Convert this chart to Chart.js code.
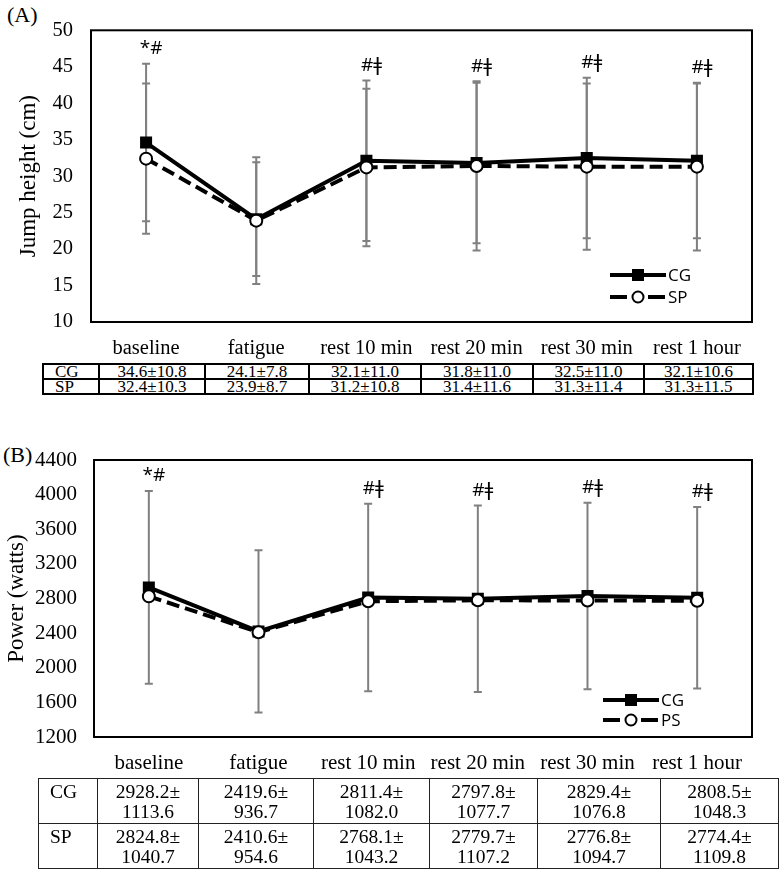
<!DOCTYPE html>
<html>
<head>
<meta charset="utf-8">
<script src="https://cdn.jsdelivr.net/npm/chart.js@4.4.1/dist/chart.umd.min.js"></script>
<style>
    body { margin: 0; background: #fff; width: 779px; height: 871px; position: relative; overflow: hidden;
           font-family: "Liberation Serif", "Times New Roman", serif; color: #000; }
    canvas { position: absolute; left: 0; }
    .tag { position: absolute; font-size: 22px; line-height: 22px; }
    table { position: absolute; border-collapse: collapse; table-layout: fixed; }
    #tableA td { border: 2px solid #000; text-align: center; padding: 0; font-size: 17px; line-height: 13px; height: 13px; }
    #tableB td { border: 1.5px solid #222; text-align: center; padding: 3px 0 0 0; font-size: 19.5px; line-height: 20px;
                 height: 41px; vertical-align: top; }
    td.grp { text-align: left !important; padding-left: 11px !important; }
</style>
</head>
<body>

<div class="tag" style="left:7px; top:4px;">(A)</div>
<div class="tag" style="left:3px; top:444px;">(B)</div>

<canvas id="jumpChart" width="779" height="362" style="top:0px;"></canvas>
<table id="tableA" style="left:42px; top:363px; width:710px;"></table>

<canvas id="powerChart" width="779" height="360" style="top:420px;"></canvas>
<table id="tableB" style="left:38px; top:778px; width:740px;"></table>

<script>
const categories = ['baseline', 'fatigue', 'rest 10 min', 'rest 20 min', 'rest 30 min', 'rest 1 hour'];
const sigMarks = ['*#', '', '#ǂ', '#ǂ', '#ǂ', '#ǂ'];

const jumpCG = [34.6, 24.1, 32.1, 31.8, 32.5, 32.1];
const jumpCGsd = [10.8, 7.8, 11.0, 11.0, 11.0, 10.6];
const jumpSP = [32.4, 23.9, 31.2, 31.4, 31.3, 31.3];
const jumpSPsd = [10.3, 8.7, 10.8, 11.6, 11.4, 11.5];
const jumpTicks = [10, 15, 20, 25, 30, 35, 40, 45, 50];

const powerCG = [2928.2, 2419.6, 2811.4, 2797.8, 2829.4, 2808.5];
const powerCGsd = [1113.6, 936.7, 1082.0, 1077.7, 1076.8, 1048.3];
const powerSP = [2824.8, 2410.6, 2768.1, 2779.7, 2776.8, 2774.4];
const powerSPsd = [1040.7, 954.6, 1043.2, 1107.2, 1094.7, 1109.8];
const powerTicks = [1200, 1600, 2000, 2400, 2800, 3200, 3600, 4000, 4400];

// box, error bars, significance marks and the in-plot legend
const panelExtras = {
    id: 'panelExtras',
    beforeDatasetsDraw(chart) {
        const ctx = chart.ctx, y = chart.scales.y;
        ctx.save();
        ctx.strokeStyle = '#808080';
        ctx.lineWidth = 2;
        chart.data.datasets.forEach((ds, i) => {
            if (!ds.sd) return;
            chart.getDatasetMeta(i).data.forEach((pt, j) => {
                const top = y.getPixelForValue(ds.data[j] + ds.sd[j]);
                const bot = y.getPixelForValue(ds.data[j] - ds.sd[j]);
                ctx.beginPath();
                ctx.moveTo(pt.x, top); ctx.lineTo(pt.x, bot);
                ctx.moveTo(pt.x - 4, top); ctx.lineTo(pt.x + 4, top);
                ctx.moveTo(pt.x - 4, bot); ctx.lineTo(pt.x + 4, bot);
                ctx.stroke();
            });
        });
        ctx.restore();
    },
    afterDraw(chart, args, opts) {
        const ctx = chart.ctx, a = chart.chartArea, y = chart.scales.y;
        ctx.save();
        ctx.strokeStyle = '#000';
        ctx.lineWidth = 2;
        ctx.strokeRect(a.left, a.top, a.right - a.left, a.bottom - a.top);

        // marks above the highest bar
        ctx.fillStyle = '#000';
        ctx.font = '19px "Open Sans", "DejaVu Sans", sans-serif';
        ctx.textAlign = 'center';
        ctx.textBaseline = 'middle';
        const pts = chart.getDatasetMeta(0).data;
        sigMarks.forEach((m, j) => {
            if (!m) return;
            let top = Infinity;
            chart.data.datasets.forEach(ds => {
                if (ds.sd) top = Math.min(top, y.getPixelForValue(ds.data[j] + ds.sd[j]));
            });
            ctx.fillText(m, pts[j].x + 5, top - 15);
        });

        // legend
        const lg = opts.legend;
        chart.data.datasets.forEach((ds, k) => {
            const ly = lg.y + k * lg.gap;
            const cx = lg.x + 28;
            ctx.beginPath();
            ctx.lineWidth = 4;
            ctx.strokeStyle = '#000';
            ctx.setLineDash(ds.borderDash && ds.borderDash.length ? [17, 21] : []);
            ctx.moveTo(lg.x, ly); ctx.lineTo(lg.x + 56, ly);
            ctx.stroke();
            ctx.setLineDash([]);
            if (ds.pointStyle === 'rect') {
                ctx.fillStyle = '#000';
                ctx.fillRect(cx - 6, ly - 6, 12, 12);
            } else {
                ctx.beginPath();
                ctx.arc(cx, ly, 5.5, 0, Math.PI * 2);
                ctx.fillStyle = '#fff';
                ctx.fill();
                ctx.lineWidth = 2;
                ctx.stroke();
            }
            ctx.fillStyle = '#000';
            ctx.font = '17px "Open Sans", sans-serif';
            ctx.textAlign = 'left';
            ctx.fillText(ds.label, lg.x + 58, ly + 1);
        });
        ctx.restore();
    }
};

function makePanel(canvasId, cg, cgSd, sp, spSd, spLabel, ticks, title, o) {
    return new Chart(document.getElementById(canvasId), {
        type: 'line',
        data: {
            labels: categories,
            datasets: [{
                label: 'CG',
                data: cg,
                sd: cgSd,
                order: 1,
                borderColor: '#000',
                borderWidth: 4,
                pointStyle: 'rect',
                pointRadius: 8.5,
                pointBackgroundColor: '#000',
                pointBorderWidth: 0,
                tension: 0
            }, {
                label: spLabel,
                data: sp,
                sd: spSd,
                order: 0,
                borderColor: '#000',
                borderWidth: 4,
                borderDash: [13, 6],
                pointStyle: 'circle',
                pointRadius: 6,
                pointBackgroundColor: '#fff',
                pointBorderColor: '#000',
                pointBorderWidth: 2,
                tension: 0
            }]
        },
        options: {
            responsive: false,
            animation: false,
            devicePixelRatio: 1,
            layout: { padding: { top: o.top, right: 27, left: 0, bottom: 0 } },
            scales: {
                x: {
                    offset: true,
                    grid: { display: false, drawTicks: false },
                    border: { display: false },
                    ticks: { color: '#000', padding: o.xPad, maxRotation: 0,
                             font: { family: 'Liberation Serif', size: o.font } },
                    afterFit: s => { s.height = o.xHeight; }
                },
                y: {
                    min: ticks[0],
                    max: ticks[ticks.length - 1],
                    afterBuildTicks: s => { s.ticks = ticks.map(v => ({ value: v })); },
                    grid: { display: false, drawTicks: false },
                    border: { display: false },
                    ticks: { color: '#000', padding: o.yPad, callback: v => String(v),
                             font: { family: 'Liberation Serif', size: o.font } },
                    title: { display: true, text: title, color: '#000', padding: { top: o.titlePad },
                             font: { family: 'Liberation Serif', size: 23 } },
                    afterFit: s => { s.width = o.left; }
                }
            },
            plugins: {
                legend: { display: false },
                tooltip: { enabled: false },
                panelExtras: { legend: o.legend }
            }
        },
        plugins: [panelExtras]
    });
}

makePanel('jumpChart', jumpCG, jumpCGsd, jumpSP, jumpSPsd, 'SP', jumpTicks, 'Jump height (cm)',
    { top: 18, left: 91, xHeight: 40, xPad: 14, yPad: 18, font: 20.5, titlePad: 15,
      legend: { x: 610, y: 275, gap: 22 } });

makePanel('powerChart', powerCG, powerCGsd, powerSP, null, 'PS', powerTicks, 'Power (watts)',
    { top: 40, left: 94, xHeight: 43, xPad: 14, yPad: 17, font: 21, titlePad: 3,
      legend: { x: 603, y: 280, gap: 20 } });

// tables under each chart
function buildTable(id, widths, rows) {
    const t = document.getElementById(id);
    let html = '<colgroup>' + widths.map(w => `<col style="width:${w}px">`).join('') + '</colgroup>';
    rows.forEach(r => {
        html += '<tr><td class="grp">' + r.name + '</td>' + r.cells.map(c => `<td>${c}</td>`).join('') + '</tr>';
    });
    t.innerHTML = html;
}

buildTable('tableA', [56, 106, 104, 112, 112, 111, 109], [
    { name: 'CG', cells: jumpCG.map((v, i) => `${v.toFixed(1)}±${jumpCGsd[i].toFixed(1)}`) },
    { name: 'SP', cells: jumpSP.map((v, i) => `${v.toFixed(1)}±${jumpSPsd[i].toFixed(1)}`) }
]);

buildTable('tableB', [59, 101, 115, 116, 108, 123, 118], [
    { name: 'CG', cells: powerCG.map((v, i) => `${v.toFixed(1)}±<br>${powerCGsd[i].toFixed(1)}`) },
    { name: 'SP', cells: powerSP.map((v, i) => `${v.toFixed(1)}±<br>${powerSPsd[i].toFixed(1)}`) }
]);
</script>
</body>
</html>
